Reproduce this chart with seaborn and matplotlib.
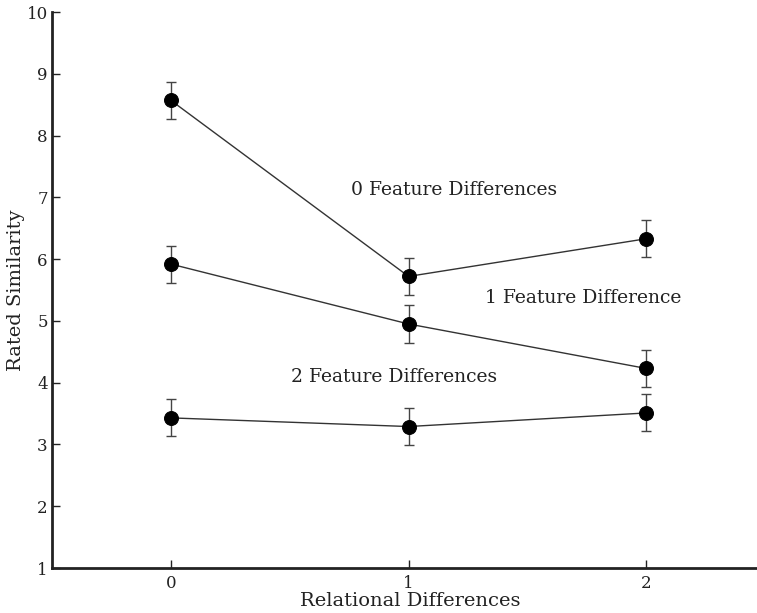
import numpy as np
import pandas as pd
import matplotlib
matplotlib.use("Agg")
import matplotlib.pyplot as plt
import seaborn as sns

# Data
relational = [0, 1, 2]
zero_feat = [8.57, 5.72, 6.33]
one_feat = [5.92, 4.95, 4.23]
two_feat = [3.43, 3.29, 3.51]
err = [0.30, 0.30, 0.30]
series_names = ["0 Feature Differences", "1 Feature Difference", "2 Feature Differences"]

df = pd.DataFrame({
    "Relational Differences": relational * 3,
    "Rated Similarity": zero_feat + one_feat + two_feat,
    "err": err * 3,
    "series": np.repeat(series_names, 3),
})

sns.set_style("ticks")
plt.rcParams["font.family"] = ["DejaVu Serif"]

fig = plt.figure(figsize=(7.57, 6.13), dpi=100)
ax = fig.add_axes([0.0687, 0.0734, 0.942, 0.907])

for name, grp in df.groupby("series"):
    ax.errorbar(grp["Relational Differences"], grp["Rated Similarity"], yerr=grp["err"],
                fmt="none", ecolor="#444444", elinewidth=1, capsize=3.4, capthick=1, zorder=2)
    sns.lineplot(data=grp, x="Relational Differences", y="Rated Similarity", ax=ax,
                 color="#333333", linewidth=1, marker="o", markersize=10,
                 markerfacecolor="black", markeredgecolor="black", zorder=3)

# labels for each line
ax.text(1.19, 7.12, series_names[0], ha="center", va="center", fontsize=13.5, color="#222222")
ax.text(1.735, 5.37, series_names[1], ha="center", va="center", fontsize=13.5, color="#222222")
ax.text(0.94, 4.09, series_names[2], ha="center", va="center", fontsize=13.5, color="#222222")

ax.set_xlim(-0.5, 2.5)
ax.set_ylim(1, 10)
ax.set_xticks(relational)
ax.set_yticks(range(1, 11))
ax.tick_params(direction="in", length=6, width=1, labelsize=12, colors="#222222", pad=3)
ax.tick_params(axis="x", pad=5)
ax.set_xlabel("Relational Differences", fontsize=14, color="#222222")
ax.set_ylabel("Rated Similarity", fontsize=14, color="#222222")
ax.xaxis.set_label_coords(0.502, -0.043)
ax.yaxis.set_label_coords(-0.0385, 0.5)
ax.xaxis.label.set_va("top")
sns.despine(ax=ax)
for s in ["left", "bottom"]:
    ax.spines[s].set_linewidth(2)
    ax.spines[s].set_color("#222222")

fig.savefig("out.png", dpi=100)
